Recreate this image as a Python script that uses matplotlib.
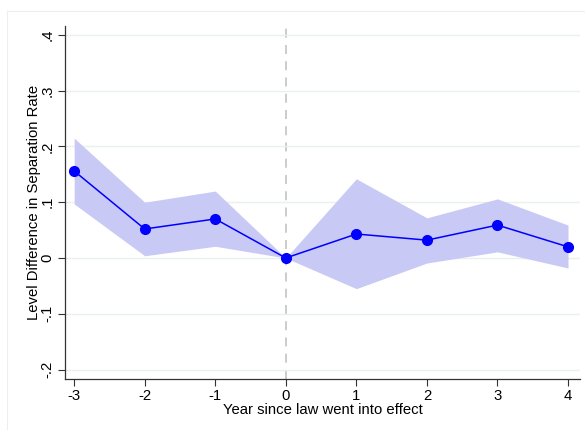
import matplotlib
matplotlib.use("Agg")
import matplotlib.pyplot as plt
from matplotlib.lines import Line2D

years = [-3, -2, -1, 0, 1, 2, 3, 4]
estimate = [0.156, 0.052, 0.070, 0.0, 0.043, 0.032, 0.059, 0.020]
ci_upper = [0.215, 0.100, 0.120, 0.0, 0.142, 0.072, 0.106, 0.059]
ci_lower = [0.097, 0.004, 0.021, 0.0, -0.055, -0.009, 0.011, -0.018]
yticks = [-0.2, -0.1, 0.0, 0.1, 0.2, 0.3, 0.4]
ytick_labels = ["-.2", "-.1", "0", ".1", ".2", ".3", ".4"]

plt.rcParams['font.family'] = ['Liberation Sans', 'DejaVu Sans']
FS = 10.7

fig = plt.figure(figsize=(5.85, 4.3), dpi=100)
W, H = 585, 430
ax_l, ax_r, ax_t, ax_b = 65, 580, 26, 379
ax = fig.add_axes([ax_l / W, 1 - ax_b / H, (ax_r - ax_l) / W, (ax_b - ax_t) / H])

# faint outer frame (top and left)
fig.add_artist(Line2D([7 / W, 1], [1 - 11 / H, 1 - 11 / H], color='#eeeeee', lw=0.8))
fig.add_artist(Line2D([7 / W, 7 / W], [0, 1 - 11 / H], color='#eeeeee', lw=0.8))

ax.fill_between(years, ci_lower, ci_upper, color='#c9c9f5', linewidth=0, zorder=2)
ax.plot(years, estimate, color='#0000ff', lw=1.1, marker='o', ms=7, zorder=3)
ax.axvline(0, color='#c8c8c8', lw=1.3, ls=(0, (5, 4)), zorder=1)

ax.set_xlim(-3.13, 4.17)
ax.set_ylim(-0.217, 0.416)
ax.set_xticks(years)
ax.set_xticklabels([str(y) for y in years], fontsize=FS)
ax.set_yticks(yticks)
ax.set_yticklabels(ytick_labels, fontsize=FS, rotation=90, va='center')
ax.grid(axis='y', color='#eaf0ee', lw=1.0, zorder=0)
for s in ['top', 'right']:
    ax.spines[s].set_visible(False)
for s in ['left', 'bottom']:
    ax.spines[s].set_color('#333333')
    ax.spines[s].set_linewidth(0.9)
ax.tick_params(axis='both', color='#333333', length=5, width=0.8, pad=2.5)
ax.set_xlabel("Year since law went into effect", fontsize=FS)
ax.set_ylabel("Level Difference in Separation Rate", fontsize=FS)
ax.xaxis.set_label_coords(0.5, -(410 - ax_b) / (ax_b - ax_t), transform=ax.transAxes)
ax.xaxis.label.set_va('center')
ax.yaxis.set_label_coords(-(ax_l - 34) / (ax_r - ax_l), 0.5, transform=ax.transAxes)
ax.yaxis.label.set_va('center')

fig.savefig("out.png", dpi=100, facecolor='white')
